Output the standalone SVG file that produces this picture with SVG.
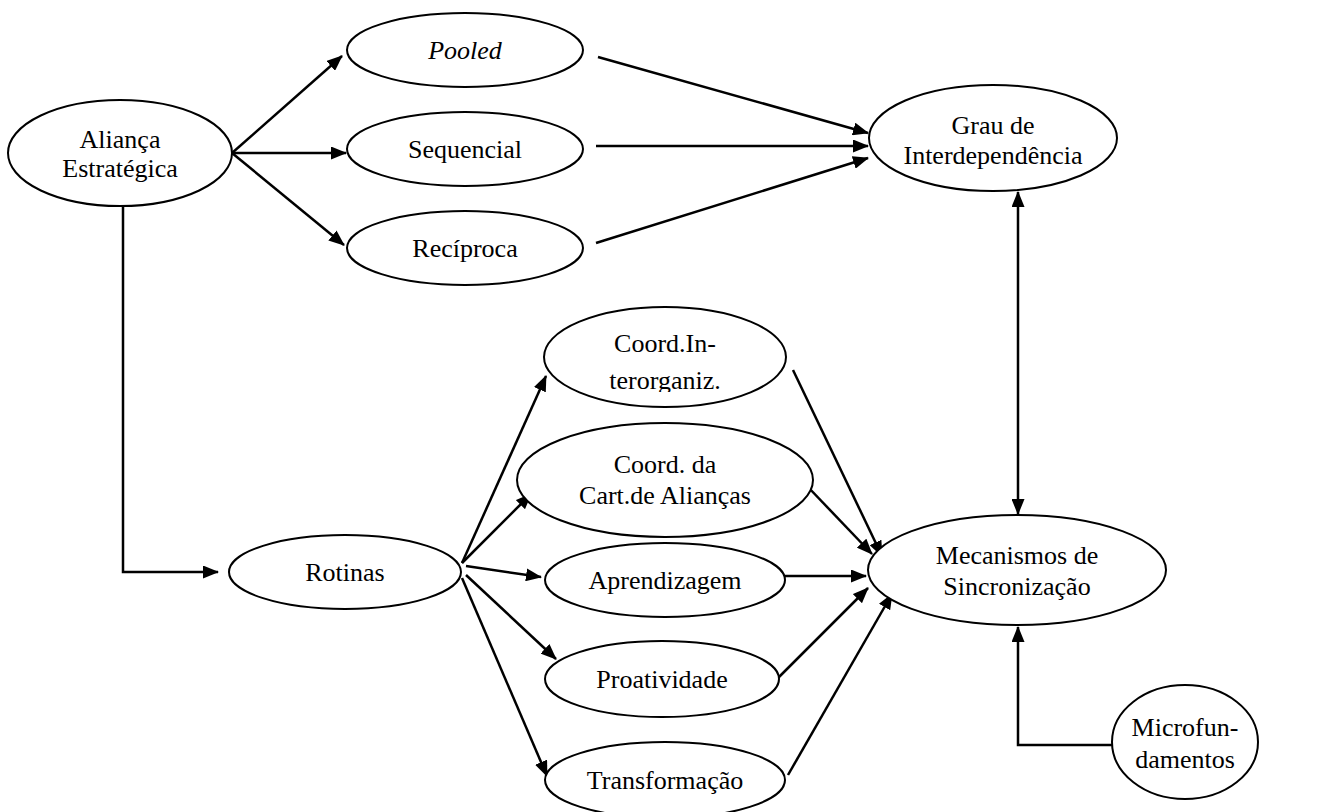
<svg xmlns="http://www.w3.org/2000/svg" width="1323" height="812" viewBox="0 0 1323 812">
<style>
.n ellipse{fill:#fff;stroke:#000;stroke-width:2}
.n text{font-family:"Liberation Serif","Times New Roman",serif;font-size:26px;fill:#000;text-anchor:middle}
.c line,.c polyline{stroke:#000;stroke-width:2.5;fill:none}
</style>
<defs>
<marker id="ah" viewBox="0 0 16 13" refX="15" refY="6.5" markerWidth="16" markerHeight="13" markerUnits="userSpaceOnUse" orient="auto-start-reverse">
<path d="M0,0 L16,6.5 L0,13 z" fill="#000"/>
</marker>
<clipPath id="clipCI"><rect x="544" y="307" width="242" height="85"/></clipPath>
</defs>
<rect width="1323" height="812" fill="#fff"/>
<g class="c" id="connectors">
<line x1="232" y1="153" x2="342" y2="56" marker-end="url(#ah)"/>
<line x1="232" y1="153" x2="346" y2="153" marker-end="url(#ah)"/>
<line x1="232" y1="153" x2="344" y2="245" marker-end="url(#ah)"/>
<line x1="598" y1="57" x2="868" y2="133" marker-end="url(#ah)"/>
<line x1="596" y1="146" x2="868" y2="146" marker-end="url(#ah)"/>
<line x1="596" y1="243" x2="868" y2="158" marker-end="url(#ah)"/>
<line x1="1018" y1="192" x2="1018" y2="514" marker-start="url(#ah)" marker-end="url(#ah)"/>
<polyline points="123,206 123,572 218,572" marker-end="url(#ah)"/>
<line x1="462" y1="563" x2="546" y2="376" marker-end="url(#ah)"/>
<line x1="462" y1="563" x2="531" y2="494" marker-end="url(#ah)"/>
<line x1="466" y1="566" x2="541" y2="577" marker-end="url(#ah)"/>
<line x1="466" y1="575" x2="556" y2="659" marker-end="url(#ah)"/>
<line x1="462" y1="578" x2="547" y2="776" marker-end="url(#ah)"/>
<line x1="793" y1="370" x2="882" y2="556" marker-end="url(#ah)"/>
<line x1="808" y1="487" x2="872" y2="554" marker-end="url(#ah)"/>
<line x1="785" y1="576" x2="866" y2="576" marker-end="url(#ah)"/>
<line x1="778" y1="678" x2="868" y2="588" marker-end="url(#ah)"/>
<line x1="788" y1="775" x2="892" y2="594" marker-end="url(#ah)"/>
<polyline points="1112,745 1018,745 1018,627" marker-end="url(#ah)"/>
</g>
<g class="n" id="alianca"><ellipse cx="120" cy="153" rx="112" ry="53"/><text x="120" y="148">Aliança</text><text x="120" y="177">Estratégica</text></g>
<g class="n" id="pooled"><ellipse cx="465" cy="50" rx="118" ry="37"/><text x="465" y="59" font-style="italic">Pooled</text></g>
<g class="n" id="sequencial"><ellipse cx="465" cy="149" rx="118" ry="37"/><text x="465" y="158">Sequencial</text></g>
<g class="n" id="reciproca"><ellipse cx="465" cy="248" rx="118" ry="37"/><text x="465" y="257">Recíproca</text></g>
<g class="n" id="grau"><ellipse cx="993" cy="138" rx="124" ry="53"/><text x="993" y="134">Grau de</text><text x="993" y="164">Interdependência</text></g>
<g class="n" id="coordinter"><ellipse cx="665" cy="357" rx="121" ry="50"/><g clip-path="url(#clipCI)"><text x="665" y="352">Coord.In-</text><text x="665" y="389">terorganiz.</text></g></g>
<g class="n" id="coordcart"><ellipse cx="665" cy="480" rx="148" ry="57"/><text x="665" y="473">Coord. da</text><text x="665" y="504">Cart.de Alianças</text></g>
<g class="n" id="aprendizagem"><ellipse cx="665" cy="580" rx="120" ry="37"/><text x="665" y="589">Aprendizagem</text></g>
<g class="n" id="proatividade"><ellipse cx="662" cy="679" rx="117" ry="38"/><text x="662" y="688">Proatividade</text></g>
<g class="n" id="transformacao"><ellipse cx="665" cy="780" rx="120" ry="38"/><text x="665" y="789">Transformação</text></g>
<g class="n" id="rotinas"><ellipse cx="345" cy="572" rx="116" ry="37"/><text x="345" y="581">Rotinas</text></g>
<g class="n" id="mecanismos"><ellipse cx="1017" cy="570" rx="149" ry="55"/><text x="1017" y="564">Mecanismos de</text><text x="1017" y="595">Sincronização</text></g>
<g class="n" id="micro"><ellipse cx="1185" cy="742" rx="73" ry="57"/><text x="1185" y="736">Microfun-</text><text x="1185" y="768">damentos</text></g>
</svg>
